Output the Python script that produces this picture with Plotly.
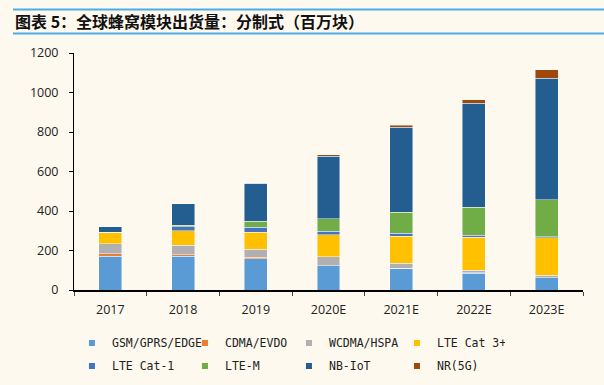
import plotly.graph_objects as go

years = ["2017", "2018", "2019", "2020E", "2021E", "2022E", "2023E"]
series_names = ["GSM/GPRS/EDGE", "CDMA/EVDO", "WCDMA/HSPA", "LTE Cat 3+",
                "LTE Cat-1", "LTE-M", "NB-IoT", "NR(5G)"]
gsm = [172, 171, 157, 122, 110, 86, 61]
cdma = [12, 7, 8, 2, 1, 1, 0.5]
wcdma = [51, 49, 42, 44, 25, 12, 13]
lte_cat3 = [54, 74, 86, 111, 135, 167, 189]
lte_cat1 = [3, 19, 25, 19, 17, 10, 7]
lte_m = [1, 8, 30, 62, 106, 143, 186]
nb_iot = [27, 108, 192, 317, 430, 527, 616]
nr_5g = [0, 0, 0, 7, 10, 17, 42]
y_ticks = [0, 200, 400, 600, 800, 1000, 1200]

series_values = [gsm, cdma, wcdma, lte_cat3, lte_cat1, lte_m, nb_iot, nr_5g]
colors = ["#5B9BD5", "#ED7D31", "#B0B0B0", "#FFC000",
          "#4472C4", "#70AD47", "#245E91", "#9E480E"]
legend_widths = [68, 59, 63, 63]

BG = "#FEF9EE"
fig = go.Figure()
for name, vals, col in zip(series_names, series_values, colors):
    fig.add_trace(go.Bar(x=years, y=vals, name=name, marker_color=col,
                         marker_line=dict(color="rgba(255,255,255,0.55)", width=0.8),
                         showlegend=False))

# legend entries (small square markers), split into two rows
for i, (name, col) in enumerate(zip(series_names, colors)):
    fig.add_trace(go.Scatter(x=[None], y=[None], mode="markers", name=name,
                             marker=dict(symbol="square", size=6, color=col),
                             legend="legend" if i < 4 else "legend2",
                             legendwidth=legend_widths[i % 4],
                             showlegend=True))

legend_common = dict(orientation="h", xanchor="left", yanchor="middle",
                     entrywidthmode="pixels",
                     bgcolor="rgba(0,0,0,0)", traceorder="normal",
                     font=dict(family="DejaVu Sans Mono", size=11.5, color="#222222"),
                     itemclick=False, itemdoubleclick=False)

fig.update_layout(
    width=604, height=385,
    paper_bgcolor=BG, plot_bgcolor=BG,
    margin=dict(l=74, r=21, t=53, b=95, autoexpand=False),
    barmode="stack", bargap=0.684,
    showlegend=True,
    legend=dict(x=-0.004, y=-0.2235, **legend_common),
    legend2=dict(x=-0.004, y=-0.3205, **legend_common),
    font=dict(family="Open Sans", size=12, color="#222222"),
    xaxis=dict(type="category", showline=True, linecolor="#000000", linewidth=1.5,
               ticks="outside", tickson="boundaries", ticklen=4, tickcolor="#444444",
               tickfont=dict(family="Open Sans", size=12.5, color="#222222"),
               ticklabelstandoff=7, showgrid=False, zeroline=False, fixedrange=True),
    yaxis=dict(range=[0, 1200], tickvals=y_ticks, showline=True, linecolor="#000000",
               linewidth=1, ticks="outside", ticklen=4, tickcolor="#000000",
               tickfont=dict(family="Open Sans", size=12.5, color="#222222"),
               ticklabelstandoff=8, showgrid=False, zeroline=False, fixedrange=True),
    annotations=[dict(text="<b>图表 5：全球蜂窝模块出货量：分制式（百万块）</b>",
                      xref="paper", yref="paper", x=-61 / 509, y=1 + 32 / 237,
                      xanchor="left", yanchor="middle", showarrow=False,
                      font=dict(family="Noto Sans CJK SC", size=16, color="#111111"))],
    shapes=[
        dict(type="line", xref="paper", yref="paper", x0=-61 / 509, x1=1 + 21 / 509,
             y0=1 + 43.5 / 237, y1=1 + 43.5 / 237, line=dict(color="#4BACE6", width=2)),
        dict(type="line", xref="paper", yref="paper", x0=-61 / 509, x1=1 + 21 / 509,
             y0=1 + 19.5 / 237, y1=1 + 19.5 / 237, line=dict(color="#4BACE6", width=2)),
    ],
)

fig.write_html(
    "out.html",
    config={"displayModeBar": False},
    post_script="document.body.style.margin='0';document.body.style.background='#FEF9EE';",
)
